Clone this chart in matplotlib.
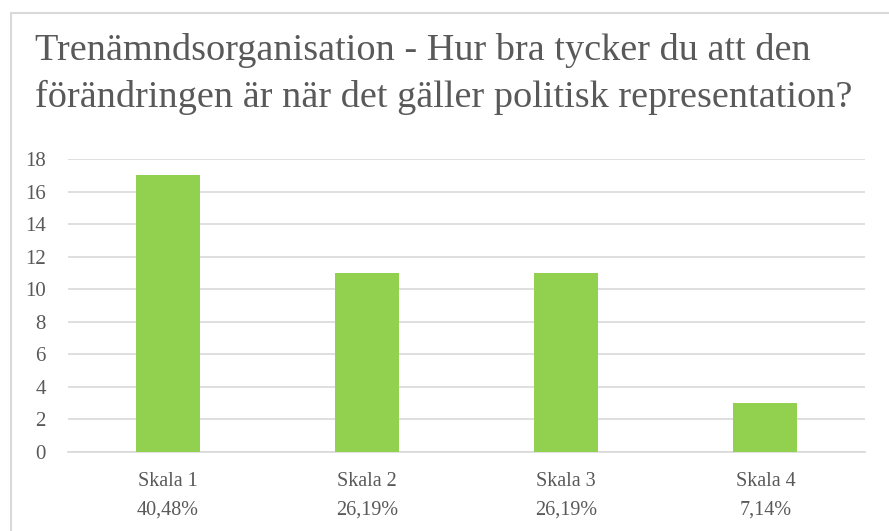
import matplotlib
matplotlib.use("Agg")
import matplotlib.pyplot as plt
from matplotlib.patches import Rectangle

categories = ["Skala 1", "Skala 2", "Skala 3", "Skala 4"]
percent = ["40,48%", "26,19%", "26,19%", "7,14%"]
counts = [17, 11, 11, 3]
yticks = list(range(0, 19, 2))
title_lines = ["Trenämndsorganisation - Hur bra tycker du att den",
               "förändringen är när det gäller politisk representation?"]

plt.rcParams['font.family'] = ['Liberation Serif', 'DejaVu Serif']
grey = "#595959"

fig = plt.figure(figsize=(8.89, 5.31), dpi=100)
W, H = 889, 531
# ram runt diagrammet (fortsätter utanför höger- och nederkant)
fig.patches.append(Rectangle((11 / W, -0.1), 1.2, 1 - 13 / H + 0.1,
                             transform=fig.transFigure, fill=False,
                             edgecolor="#D9D9D9", linewidth=1.5))

ax = fig.add_axes([68 / W, 1 - 452 / H, (865 - 68) / W, (452 - 159) / H])
x = list(range(len(categories)))
ax.bar(x, counts, width=0.32, color="#92D050", zorder=3)
ax.set_xlim(-0.5, len(categories) - 0.5)
ax.set_ylim(0, 18)
ax.set_yticks(yticks)
ax.yaxis.grid(True, color="#D9D9D9", linewidth=1.2, zorder=0)
for s in ["top", "right", "left"]:
    ax.spines[s].set_visible(False)
ax.spines["bottom"].set_color("#D9D9D9")
ax.spines["bottom"].set_linewidth(1.2)
ax.set_xticks(x)
ax.set_xticklabels([])
ax.tick_params(axis="both", length=0, colors=grey)
ax.tick_params(axis="y", labelsize=15, pad=16)

ah = 452 - 159
for xi, c, p in zip(x, categories, percent):
    ax.text(xi, (452 - 482) / ah, c, transform=ax.get_xaxis_transform(),
            ha="center", va="center", fontsize=14.5, color=grey)
    ax.text(xi, (452 - 510) / ah, p, transform=ax.get_xaxis_transform(),
            ha="center", va="center", fontsize=14.5, color=grey)

for i, line in enumerate(title_lines):
    fig.text(35 / W, 1 - (60 + 47 * i) / H, line, ha="left", va="baseline",
             fontsize=27.5, color=grey)

fig.savefig("out.png", dpi=100)
